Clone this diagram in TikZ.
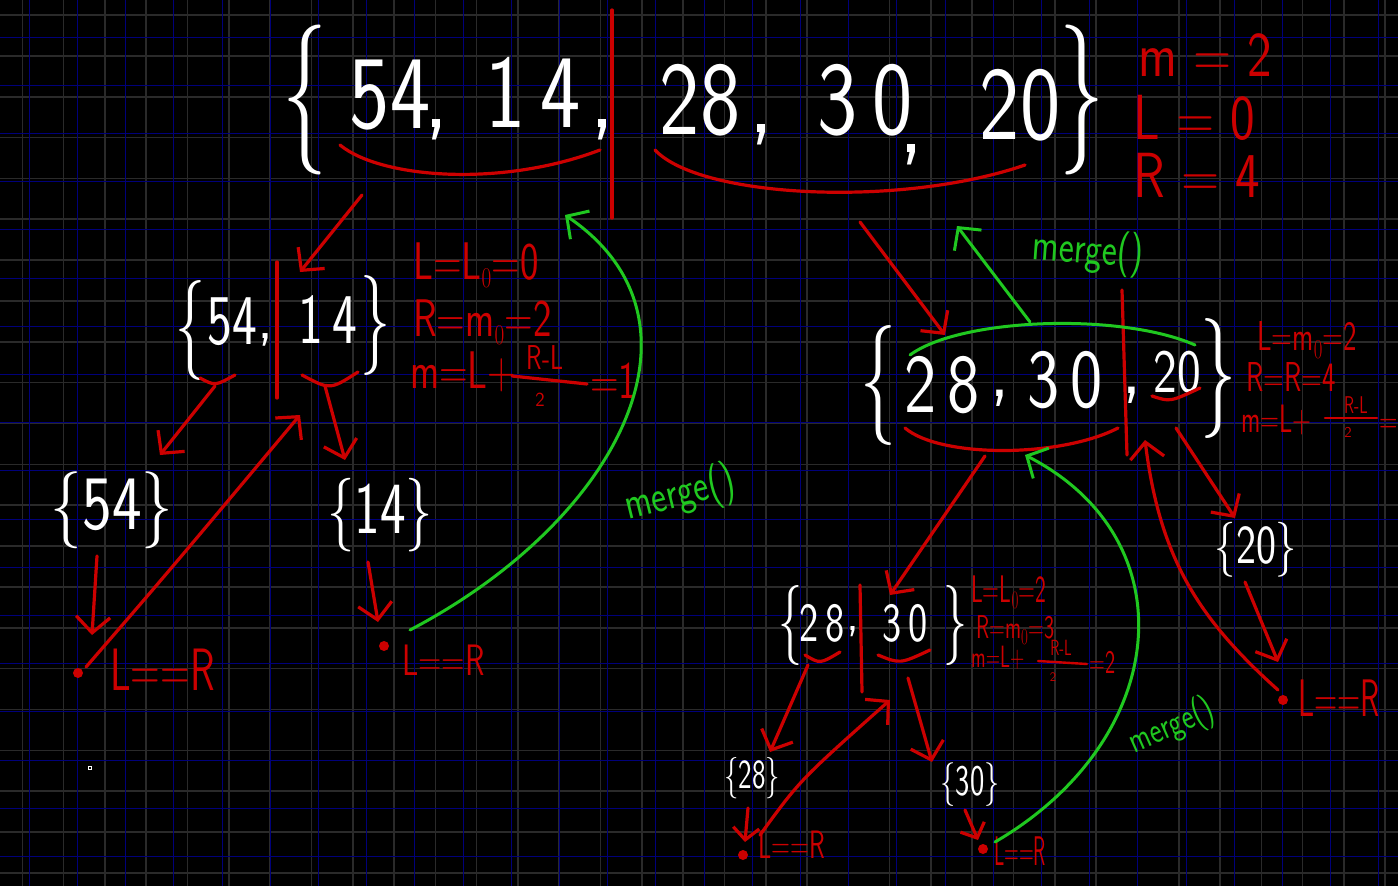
\documentclass[tikz,border=0pt]{standalone}
\usetikzlibrary{arrows.meta}
\definecolor{gridg}{HTML}{2A2A2A}
\definecolor{gridb}{HTML}{00007A}
\definecolor{rd}{HTML}{CC0000}
\definecolor{gr}{HTML}{20C820}
\newcommand{\fs}[1]{\fontsize{#1}{#1}\selectfont}
\newcommand{\sx}[2]{\scalebox{#1}[1]{#2}}
\newcommand{\sxy}[3]{\scalebox{#1}[#2]{#3}}
\tikzset{
  wt/.style={text=white, font=\sffamily, inner sep=0pt},
  rt/.style={text=rd, font=\sffamily, inner sep=0pt},
  gt/.style={text=gr, font=\sffamily, inner sep=0pt},
  rline/.style={draw=rd, line width=3.2pt, line cap=round},
  gline/.style={draw=gr, line width=3pt, line cap=round},
  rarr/.style={rline, -{Straight Barb[length=16pt,width=34pt]}},
  garr/.style={gline, -{Straight Barb[length=16pt,width=34pt]}},
  dot/.style={circle, fill=rd, inner sep=0pt, minimum size=10pt},
}
\begin{document}
\begin{tikzpicture}[x=1pt,y=-1pt]
\useasboundingbox (0,0) rectangle (1398,886);
\clip (0,0) rectangle (1398,886);
\fill[black] (0,0) rectangle (1398,886);
% grid
\foreach \x in {22.3,63.6,...,1398} \draw[gridg, line width=1.6pt] (\x,0) -- (\x,886);
\foreach \y in {15,55.85,...,886} \draw[gridg, line width=1.6pt] (0,\y) -- (1398,\y);
\foreach \x in {29.3,77.5,...,1398} \draw[gridb, line width=0.9pt] (\x,0) -- (\x,886);
\foreach \y in {37,85.2,...,886} \draw[gridb, line width=0.9pt] (0,\y) -- (1398,\y);

% ---------- top array ----------
\node[wt] (tlb) at (305,100) {\sx{0.6}{\fs{150}\{}};
\node[wt] (t54) at (390,95) {\sxy{0.9}{1.1}{\fs{95}54}};
\node[wt] (tc1) at (437,130) {\fs{100},};
\node[wt] (t14) at (533,92) {\sxy{0.9}{1.1}{\fs{95}1\,4}};
\node[wt] (tc2) at (603,130) {\fs{100},};
\node[wt] (t28) at (700,100) {\sxy{0.9}{1.1}{\fs{95}28}};
\node[wt] (tc3) at (762,135) {\fs{100},};
\node[wt] (t30) at (865,100) {\sxy{0.9}{1.1}{\fs{95}3\,0}};
\node[wt] (tc4) at (912,155) {\fs{100},};
\node[wt] (t20) at (1020,105) {\sxy{0.9}{1.1}{\fs{95}20}};
\node[wt] (trb) at (1082,100) {\sx{0.6}{\fs{150}\}}};
\coordinate (tm1) at (612,10);
\coordinate (tm2) at (612,218);
\draw[rline] (tm1) -- (tm2);
\coordinate (ua) at (340,145);
\coordinate (ub) at (600,150);
\coordinate (uc) at (655,150);
\coordinate (ud) at (1025,165);
\draw[rline] (ua) .. controls (380,178) and (500,188) .. (ub);
\draw[rline] (uc) .. controls (700,198) and (900,208) .. (ud);
\node[rt, anchor=west] (tm) at (1138,55) {\sxy{0.9}{1.1}{\fs{58}m = 2}};
\node[rt, anchor=west] (tl) at (1133,118) {\sxy{0.9}{1.1}{\fs{58}L = 0}};
\node[rt, anchor=west] (tr) at (1133,175) {\sxy{0.9}{1.1}{\fs{58}R = 4}};

% ---------- left node {54,14} ----------
\node[wt] (llb) at (190,330) {\sx{0.6}{\fs{100}\{}};
\node[wt] (l54) at (232,322) {\sxy{0.85}{1.15}{\fs{62}54}};
\node[wt] (lc) at (266,340) {\fs{62},};
\node[wt] (l14) at (328,320) {\sxy{0.85}{1.15}{\fs{62}1\,4}};
\node[wt] (lrb) at (375,325) {\sx{0.6}{\fs{100}\}}};
\coordinate (lm1) at (277,262);
\coordinate (lm2) at (277,398);
\draw[rline] (lm1) -- (lm2);
\coordinate (la1) at (200,378);
\coordinate (la2) at (235,375);
\coordinate (lb1) at (302,375);
\coordinate (lb2) at (358,372);
\draw[rline] (la1) .. controls (215,386) .. (la2);
\draw[rline] (lb1) .. controls (330,390) .. (lb2);
\node[rt, anchor=west] (lL) at (413,265) {\sxy{0.85}{1.15}{\fs{46}L=L$_0$=0}};
\node[rt, anchor=west] (lR) at (413,322) {\sxy{0.85}{1.15}{\fs{46}R=m$_0$=2}};
\node[rt, anchor=west] (lM) at (410,372) {\sxy{0.85}{1.15}{\fs{46}m=L+}};
\node[rt] (lnum) at (545,358) {\sxy{0.85}{1.15}{\fs{30}R-L}};
\coordinate (lf1) at (512,376);
\coordinate (lf2) at (587,384);
\draw[rline] (lf1) -- (lf2);
\node[rt] (lden) at (540,400) {\fs{20}2};
\node[rt, anchor=west] (leq) at (590,381) {\sxy{0.85}{1.15}{\fs{46}=1}};

\node[wt] (s54) at (112,510) {\sxy{0.9}{1.1}{\fs{70}\{54\}}};
\node[wt] (s14) at (380,515) {\sxy{0.85}{1.15}{\fs{64}\{14\}}};
\coordinate (a1s) at (362,195);
\coordinate (a1e) at (300,272);
\draw[rarr] (a1s) -- (a1e);
\coordinate (a2s) at (215,386);
\coordinate (a2e) at (160,455);
\draw[rarr] (a2s) -- (a2e);
\coordinate (a3s) at (325,386);
\coordinate (a3e) at (345,460);
\draw[rarr] (a3s) -- (a3e);
\coordinate (a4s) at (97,556);
\draw[rarr] (a4s) -- (92,635);
\coordinate (a5s) at (368,562);
\draw[rarr] (a5s) -- (378,622);
\node[dot] (d54) at (78,673) {};
\node[dot] (d14) at (384,646) {};
\node[rt, anchor=west] (e54) at (110,670) {\sxy{0.78}{1.15}{\fs{52}L==R}};
\node[rt, anchor=west] (e14) at (402,660) {\sxy{0.8}{1.1}{\fs{40}L==R}};
\coordinate (b1s) at (86,667);
\coordinate (b1e) at (300,415);
\draw[rarr] (b1s) .. controls (170,570) .. (b1e);
\coordinate (g1s) at (410,630);
\coordinate (g1e) at (565,215);
\draw[garr] (g1s) .. controls (620,520) and (720,320) .. (g1e);
\node[gt, rotate=14] (gm1) at (680,495) {\sxy{0.9}{1.15}{\fs{40}merge()}};

% ---------- right node {28,30,20} ----------
\coordinate (a6s) at (860,222);
\coordinate (a6e) at (945,335);
\draw[rarr] (a6s) -- (a6e);
\coordinate (g2s) at (1030,322);
\coordinate (g2e) at (957,226);
\draw[garr] (g2s) -- (g2e);
\node[gt, rotate=-4] (gm2) at (1088,252) {\sxy{0.9}{1.15}{\fs{40}merge()}};

\node[wt] (rlb) at (878,385) {\sx{0.6}{\fs{120}\{}};
\node[wt] (r28) at (942,385) {\sxy{0.9}{1.1}{\fs{76}2\,8}};
\node[wt] (rc1) at (1000,398) {\fs{80},};
\node[wt] (r30) at (1065,380) {\sxy{0.9}{1.1}{\fs{76}3\,0}};
\node[wt] (rc2) at (1132,395) {\fs{80},};
\node[wt] (r20) at (1177,372) {\sxy{0.9}{1.1}{\fs{56}20}};
\node[wt] (rrb) at (1218,378) {\sx{0.6}{\fs{120}\}}};
\coordinate (rm1) at (1122,290);
\coordinate (rm2) at (1127,455);
\draw[rline] (rm1) -- (rm2);
\coordinate (rg1) at (910,355);
\coordinate (rg2) at (1195,345);
\draw[gline] (rg1) .. controls (960,318) and (1120,312) .. (rg2);
\coordinate (ra1) at (905,428);
\coordinate (ra2) at (1118,428);
\draw[rline] (ra1) .. controls (940,458) and (1060,458) .. (ra2);
\coordinate (rb1) at (1152,396);
\coordinate (rb2) at (1200,388);
\draw[rline] (rb1) .. controls (1170,402) .. (rb2);
\node[rt, anchor=west] (rL) at (1257,340) {\sxy{0.75}{1.1}{\fs{38}L=m$_0$=2}};
\node[rt, anchor=west] (rR) at (1246,377) {\sxy{0.75}{1.1}{\fs{38}R=R=4}};
\node[rt, anchor=west] (rM) at (1241,420) {\sxy{0.72}{1.1}{\fs{36}m=L+}};
\node[rt] (rnum) at (1356,405) {\sxy{0.75}{1.1}{\fs{22}R-L}};
\coordinate (rf1) at (1325,418);
\coordinate (rf2) at (1377,418);
\draw[rline, line width=2.6pt] (rf1) -- (rf2);
\node[rt] (rden) at (1348,432) {\fs{15}2};
\node[rt, anchor=west] (req) at (1379,426) {\sxy{0.7}{1.1}{\fs{36}=}};

\coordinate (a7s) at (985,456);
\coordinate (a7e) at (890,595);
\draw[rarr] (a7s) -- (a7e);
\coordinate (a8s) at (1176,428);
\coordinate (a8e) at (1235,518);
\draw[rarr] (a8s) -- (a8e);
\node[wt] (s20) at (1256,550) {\sxy{0.85}{1.1}{\fs{50}\{20\}}};
\coordinate (a9s) at (1245,582);
\draw[rarr] (a9s) -- (1278,662);
\node[dot] (d20) at (1283,700) {};
\node[rt, anchor=west] (e20) at (1298,698) {\sxy{0.66}{1.1}{\fs{48}L==R}};
\coordinate (b2s) at (1278,690);
\coordinate (b2e) at (1145,440);
\draw[rarr] (b2s) .. controls (1200,620) and (1160,560) .. (b2e);

% ---------- lower node {28,30} ----------
\node[wt] (slb) at (790,625) {\sx{0.6}{\fs{80}\{}};
\node[wt] (s28a) at (822,623) {\sxy{0.85}{1.15}{\fs{48}2\,8}};
\node[wt] (sc) at (853,632) {\fs{50},};
\node[wt] (s30a) at (905,623) {\sxy{0.85}{1.15}{\fs{48}3\,0}};
\node[wt] (srb) at (955,625) {\sx{0.6}{\fs{80}\}}};
\coordinate (sm1) at (860,585);
\coordinate (sm2) at (862,692);
\draw[rline] (sm1) -- (sm2);
\coordinate (sa1) at (805,655);
\coordinate (sa2) at (840,652);
\draw[rline] (sa1) .. controls (820,664) .. (sa2);
\coordinate (sb1) at (878,655);
\coordinate (sb2) at (930,650);
\draw[rline] (sb1) .. controls (900,664) .. (sb2);
\node[rt, anchor=west] (sL) at (971,592) {\sxy{0.72}{1.2}{\fs{32}L=L$_0$=2}};
\node[rt, anchor=west] (sR) at (976,630) {\sxy{0.72}{1.1}{\fs{30}R=m$_0$=3}};
\node[rt, anchor=west] (sM) at (971,658) {\sxy{0.7}{1.1}{\fs{28}m=L+}};
\node[rt] (snum) at (1061,648) {\sxy{0.75}{1.1}{\fs{20}R-L}};
\coordinate (sf1) at (1038,661);
\coordinate (sf2) at (1087,664);
\draw[rline, line width=2.4pt] (sf1) -- (sf2);
\node[rt] (sden) at (1053,677) {\fs{13}2};
\node[rt, anchor=west] (seq) at (1089,662) {\sxy{0.72}{1.1}{\fs{30}=2}};

\coordinate (a10s) at (808,665);
\coordinate (a10e) at (770,752);
\draw[rarr] (a10s) -- (a10e);
\coordinate (a11s) at (908,678);
\coordinate (a11e) at (932,762);
\draw[rarr] (a11s) -- (a11e);
\node[wt] (s28) at (752,778) {\sxy{0.8}{1.15}{\fs{36}\{28\}}};
\node[wt] (s30) at (970,785) {\sxy{0.8}{1.15}{\fs{38}\{30\}}};
\coordinate (a12s) at (748,808);
\draw[rarr, -{Straight Barb[length=12pt,width=26pt]}] (a12s) -- (745,842);
\coordinate (a13s) at (965,810);
\draw[rarr, -{Straight Barb[length=12pt,width=26pt]}] (a13s) -- (978,840);
\node[dot] (d28) at (743,855) {};
\node[dot] (d30) at (983,849) {};
\node[rt, anchor=west] (e28) at (758,845) {\sxy{0.72}{1.1}{\fs{36}L==R}};
\node[rt, anchor=west] (e30) at (994,851) {\sxy{0.56}{1.15}{\fs{36}L==R}};
\coordinate (b3s) at (760,835);
\coordinate (b3e) at (890,700);
\draw[rarr] (b3s) .. controls (800,780) .. (b3e);
\coordinate (g3s) at (995,842);
\coordinate (g3e) at (1025,455);
\draw[garr] (g3s) .. controls (1170,740) and (1190,540) .. (g3e);
\node[gt, rotate=24] (gm3) at (1172,727) {\sxy{0.9}{1.15}{\fs{32}merge()}};

% tiny mark
\node[draw=white, line width=0.6pt, inner sep=0pt, minimum size=3pt] (spk) at (90,768) {};
\end{tikzpicture}
\end{document}
